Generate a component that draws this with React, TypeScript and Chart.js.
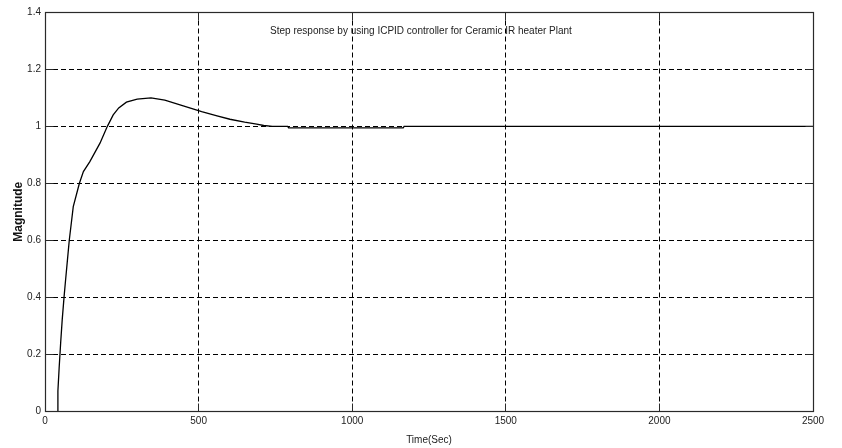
import React, { useEffect, useRef } from "react";
import { Chart, registerables } from "chart.js";

Chart.register(...registerables);

// Step response samples (time in seconds, output magnitude)
const timeSec = [
  40, 42, 46, 51, 56, 62, 67, 73, 79, 92, 112, 125, 146, 179, 203, 222, 240,
  265, 300, 345, 390, 450, 510, 560, 602, 650, 689, 712, 740, 790, 793, 1166, 1169, 2500,
];
const magnitude = [
  0, 0.07, 0.15, 0.24, 0.32, 0.4, 0.46, 0.53, 0.6, 0.718, 0.8, 0.841, 0.876,
  0.941, 1.0, 1.04, 1.065, 1.085, 1.096, 1.1, 1.092, 1.072, 1.052, 1.037, 1.025,
  1.015, 1.008, 1.003, 1.0, 1.0, 0.995, 0.995, 1.0, 1.0,
];

const xTickValues = [0, 500, 1000, 1500, 2000, 2500];
const xTickLabels = ["0", "500", "1000", "1500", "2000", "2500"];
const yTickValues = [0, 0.2, 0.4, 0.6, 0.8, 1.0, 1.2, 1.4];
const yTickLabels = ["0", "0.2", "0.4", "0.6", "0.8", "1", "1.2", "1.4"];

const chartTitle = "Step response by using ICPID controller for Ceramic IR heater Plant";
const xAxisTitle = "Time(Sec)";
const yAxisTitle = "Magnitude";

const FONT = '"Liberation Sans", Arial, sans-serif';

// Same pixel snapping Chart.js uses for 1px grid lines
const snap = (p: number) => Math.round(p - 0.5) + 0.5;

// Draws the full axes box, inward tick marks and the in-plot title
const boxPlugin = {
  id: "axesBox",
  afterDraw(chart: any) {
    const { ctx } = chart;
    const xs = chart.scales.x;
    const ys = chart.scales.y;
    const l = snap(xs.getPixelForValue(0));
    const r = snap(xs.getPixelForValue(2500));
    const t = snap(ys.getPixelForValue(1.4));
    const b = snap(ys.getPixelForValue(0));
    const tick = 8;
    ctx.save();
    ctx.strokeStyle = "#2a2a2a";
    ctx.lineWidth = 1.2;
    ctx.setLineDash([]);
    ctx.strokeRect(l, t, r - l, b - t);
    ctx.lineWidth = 1;
    ctx.beginPath();
    xTickValues.forEach((v) => {
      const px = snap(xs.getPixelForValue(v));
      ctx.moveTo(px, b);
      ctx.lineTo(px, b - tick);
      ctx.moveTo(px, t);
      ctx.lineTo(px, t + tick);
    });
    yTickValues.forEach((v) => {
      const py = snap(ys.getPixelForValue(v));
      ctx.moveTo(l, py);
      ctx.lineTo(l + tick, py);
      ctx.moveTo(r, py);
      ctx.lineTo(r - tick, py);
    });
    ctx.stroke();

    ctx.fillStyle = "#222";
    ctx.font = `10px ${FONT}`;
    ctx.textAlign = "center";
    ctx.textBaseline = "middle";
    ctx.fillText(chartTitle, 421, 31);
    ctx.restore();
  },
};

export default function App() {
  const canvasRef = useRef<HTMLCanvasElement | null>(null);

  useEffect(() => {
    const canvas = canvasRef.current;
    if (!canvas) return;
    const points = timeSec.map((t, i) => ({ x: t, y: magnitude[i] }));
    const chart = new Chart(canvas, {
      type: "line",
      data: {
        datasets: [
          {
            data: points,
            borderColor: "#000",
            borderWidth: 1.3,
            pointRadius: 0,
            tension: 0,
            fill: false,
          },
        ],
      },
      options: {
        animation: false,
        responsive: false,
        events: [],
        layout: { padding: { top: 12.5, right: 29, left: 0, bottom: 0 } },
        plugins: {
          legend: { display: false },
          tooltip: { enabled: false },
          title: { display: false },
        },
        scales: {
          x: {
            type: "linear",
            min: 0,
            max: 2500,
            afterBuildTicks: (scale: any) => {
              scale.ticks = xTickValues.map((v) => ({ value: v }));
            },
            afterFit: (scale: any) => {
              scale.height = 37;
            },
            ticks: {
              autoSkip: false,
              maxRotation: 0,
              padding: 4,
              color: "#222",
              font: { family: FONT, size: 10 },
              callback: (_v: any, i: number) => xTickLabels[i],
            },
            grid: { color: "#000", lineWidth: 1, drawTicks: false },
            border: { display: false, dash: [5, 3] },
            title: {
              display: true,
              text: xAxisTitle,
              color: "#222",
              font: { family: FONT, size: 10 },
              padding: { top: 0, bottom: 2 },
            },
          },
          y: {
            type: "linear",
            min: 0,
            max: 1.4,
            afterBuildTicks: (scale: any) => {
              scale.ticks = yTickValues.map((v) => ({ value: v }));
            },
            afterFit: (scale: any) => {
              scale.width = 45;
            },
            ticks: {
              autoSkip: false,
              padding: 4,
              color: "#222",
              font: { family: FONT, size: 10 },
              callback: (_v: any, i: number) => yTickLabels[i],
            },
            grid: { color: "#000", lineWidth: 1, drawTicks: false },
            border: { display: false, dash: [5, 3] },
            title: {
              display: true,
              text: yAxisTitle,
              color: "#111",
              font: { family: FONT, size: 12, weight: "bold" },
              padding: { top: 11.4, bottom: 0 },
            },
          },
        },
      },
      plugins: [boxPlugin],
    });
    return () => chart.destroy();
  }, []);

  return (
    <div style={{ position: "fixed", left: 0, top: 0, width: 842, height: 448, background: "#fff" }}>
      <canvas ref={canvasRef} width={842} height={448} style={{ display: "block" }} />
    </div>
  );
}
